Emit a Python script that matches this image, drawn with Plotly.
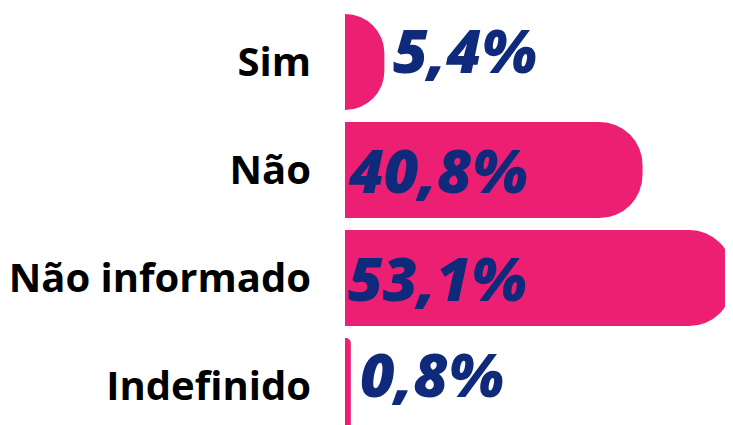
import plotly.graph_objects as go

categories = ["Sim", "Não", "Não informado", "Indefinido"]
values = [5.4, 40.8, 53.1, 0.8]
value_labels = ["5,4%", "40,8%", "53,1%", "0,8%"]
label_inside = [False, True, True, False]

PINK = "#EC1F73"
NAVY = "#0F2A7A"
VAL_FONT = dict(family="Open Sans", size=60, color=NAVY, style="italic", weight=800)

fig = go.Figure(
    go.Bar(
        x=values,
        y=categories,
        orientation="h",
        text=[t if ins else "" for t, ins in zip(value_labels, label_inside)],
        textposition=["inside" if ins else "none" for ins in label_inside],
        insidetextanchor="start",
        constraintext="none",
        textangle=0,
        cliponaxis=True,
        marker=dict(color=PINK, cornerradius=43, line=dict(width=0)),
        insidetextfont=VAL_FONT,
        hoverinfo="skip",
    )
)

for cat, val, txt, ins in zip(categories, values, value_labels, label_inside):
    if not ins:
        fig.add_annotation(
            x=val, y=cat, xref="x", yref="y",
            text=txt, showarrow=False,
            xanchor="left", yanchor="middle",
            xshift=7, yshift=12,
            font=VAL_FONT,
        )

fig.update_layout(
    width=725,
    height=417,
    margin=dict(l=337, r=0, t=0, b=0),
    paper_bgcolor="white",
    plot_bgcolor="white",
    bargap=0.111,
    showlegend=False,
    xaxis=dict(
        range=[0, 53.2],
        visible=False,
        showgrid=False,
        zeroline=False,
    ),
    yaxis=dict(
        range=[3.361, -0.5],
        categoryorder="array",
        categoryarray=categories,
        showgrid=False,
        zeroline=False,
        showline=False,
        ticks="",
        ticklabelstandoff=33,
        tickfont=dict(family="Open Sans", size=40, color="#000000", weight=700),
    ),
)

fig.write_html("out.html")
